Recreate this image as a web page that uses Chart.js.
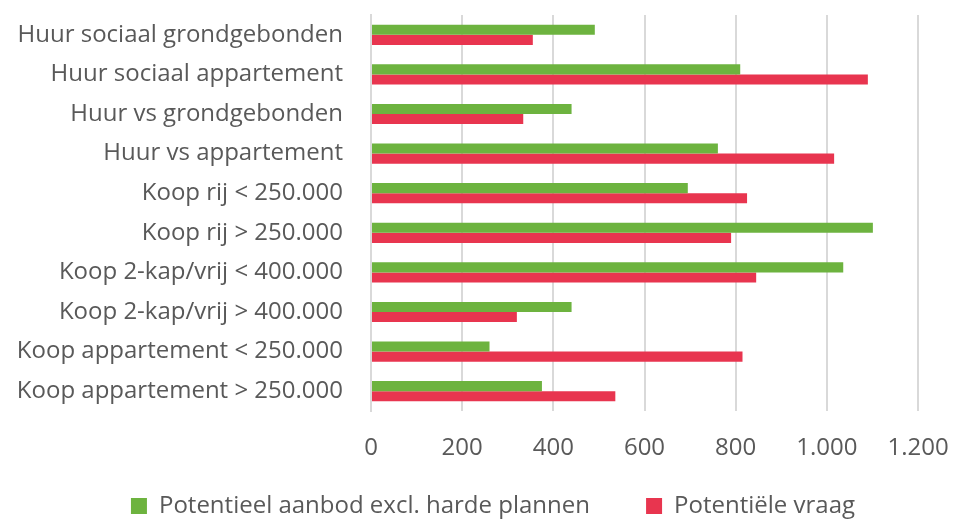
<!DOCTYPE html>
<html>
<head>
<meta charset="utf-8">
<script src="https://cdn.jsdelivr.net/npm/chart.js@4"></script>
<style>
  html, body { margin: 0; padding: 0; background: #fff; }
  #wrap { width: 953px; height: 521px; }
</style>
</head>
<body>
<div id="wrap"><canvas id="chart" width="953" height="521"></canvas></div>
<script>
// Data
const categories = [
  "Huur sociaal grondgebonden",
  "Huur sociaal appartement",
  "Huur vs grondgebonden",
  "Huur vs appartement",
  "Koop rij < 250.000",
  "Koop rij > 250.000",
  "Koop 2-kap/vrij < 400.000",
  "Koop 2-kap/vrij > 400.000",
  "Koop appartement < 250.000",
  "Koop appartement > 250.000",
];
const aanbod = [491, 810, 440, 761, 695, 1101, 1036, 440, 260, 375];
const vraag = [355, 1090, 334, 1016, 825, 790, 845, 320, 815, 536];
const seriesNames = ["Potentieel aanbod excl. harde plannen", "Potentiële vraag"];

const textColor = "#595959";
const gridColor = "#d9d9d9";
const fontFamily = "'Open Sans', sans-serif";

// Dutch thousands separator
function nl(v) {
  return String(v).replace(/\B(?=(\d{3})+(?!\d))/g, ".");
}

// nudge the legend a bit right and down, like the original
const legendShift = {
  id: "legendShift",
  afterLayout(chart) {
    const lg = chart.legend;
    lg.left += 33;
    lg.top += 7;
    lg.bottom += 7;
  },
};

const ctx = document.getElementById("chart").getContext("2d");
new Chart(ctx, {
  type: "bar",
  data: {
    labels: categories,
    datasets: [
      { label: seriesNames[0], data: aanbod, backgroundColor: "#6db33f" },
      { label: seriesNames[1], data: vraag, backgroundColor: "#e8354f" },
    ],
  },
  options: {
    indexAxis: "y",
    responsive: false,
    animation: false,
    datasets: { bar: { barPercentage: 1, categoryPercentage: 0.51 } },
    layout: { padding: { top: 15, right: 0, left: 0, bottom: 0 } },
    scales: {
      x: {
        min: 0,
        max: 1200,
        ticks: {
          stepSize: 200,
          color: textColor,
          padding: 23,
          font: { family: fontFamily, size: 24 },
          callback: (v) => nl(v),
        },
        grid: { color: gridColor, lineWidth: 2, drawTicks: false },
        border: { display: false },
        afterFit: (scale) => {
          scale.height = 76;
          scale.paddingLeft = 0;
          scale.paddingRight = 35;
        },
      },
      y: {
        ticks: {
          color: textColor,
          padding: 28,
          font: { family: fontFamily, size: 24 },
        },
        grid: { display: false, drawTicks: false },
        border: { color: gridColor, width: 2 },
        afterFit: (scale) => {
          scale.width = 371;
          scale.paddingTop = 0;
          scale.paddingBottom = 0;
        },
      },
    },
    plugins: {
      legend: {
        position: "bottom",
        labels: {
          color: textColor,
          boxWidth: 16,
          boxHeight: 16,
          padding: 0,
          font: { family: fontFamily, size: 24 },
          // extra gap after the first legend item
          generateLabels: (chart) => {
            const items = Chart.defaults.plugins.legend.labels.generateLabels(chart);
            items[0].text += "         ";
            return items;
          },
        },
      },
      tooltip: { enabled: false },
    },
  },
  plugins: [legendShift],
});
</script>
</body>
</html>
